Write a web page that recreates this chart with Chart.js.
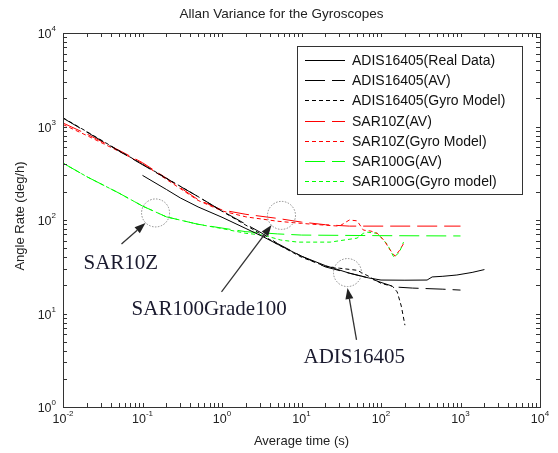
<!DOCTYPE html>
<html><head><meta charset="utf-8">
<script src="https://cdn.jsdelivr.net/npm/chart.js@4"></script>
<style>html,body{margin:0;padding:0;background:#fff}canvas{display:block}</style>
</head><body>
<canvas id="c" width="558" height="453"></canvas>
<script>
// ---- data ----
const adisRealT = [0.1,0.2,0.3,0.5,1,2,3.2,5,10,20,40,70,100,200,380,440,600,900,1400,2000];
const adisRealV = [300,212,172,138,107,81,67,55,41,32.5,27,24,22.8,22.7,22.8,24.6,25,25.8,27.5,29.5];

const adisAvT = [0.01,0.02,0.05,0.1,0.2,0.5,1,2,3.2,5,10,20,40,70,100,150,250,600,1000];
const adisAvV = [1230,870,550,390,278,178,125,90,72,56,41,31.5,27,24,21.5,19.2,18.7,18.2,17.8];

const adisModT = [0.01,0.02,0.05,0.1,0.2,0.5,1,2,5,10,20,30,50,70,100,140,160,180,200];
const adisModV = [1240,880,555,395,280,178,124,88,55,40,32,30.5,29,25,21,19.5,17,12,7.5];

const sar10AvT = [0.01,0.02,0.05,0.1,0.2,0.5,1,2,5,10,20,40,100,1000];
const sar10AvV = [1090,830,560,410,280,165,128,115,104,95,89,86,86,86];

const sar10ModT = [0.01,0.02,0.05,0.1,0.2,0.5,1,2,5,10,20,30,40,50,60,75,90,110,130,150,170,195];
const sar10ModV = [1050,800,545,400,272,162,125,108,97,92,88,86,100,98,78,76,72,60,48,41,47,57];

const sar100AvT = [0.01,0.02,0.05,0.1,0.2,0.5,1,2,5,10,100,1000];
const sar100AvV = [406,290,195,141,108,90,82,75,71,69,68,67.5];

const sar100ModT = [0.01,0.02,0.05,0.1,0.2,0.5,1,2,3.3,5.5,9,23,50,60,68,90,120,145,170,192];
const sar100ModV = [406,290,195,141,108,90,81,72,69,61,58,58,64,72,74,72,55,40,45,58];

const seriesLabels = ['ADIS16405(Real Data)','ADIS16405(AV)','ADIS16405(Gyro Model)','SAR10Z(AV)','SAR10Z(Gyro Model)','SAR100G(AV)','SAR100G(Gyro model)'];

const xTickVals = [0.01,0.1,1,10,100,1000,10000];
const xTickExp  = ['-2','-1','0','1','2','3','4'];
const yTickVals = [1,10,100,1000,10000];
const yTickExp  = ['0','1','2','3','4'];

const titleText = 'Allan Variance for the Gyroscopes';
const xTitle = 'Average time (s)';
const yTitle = 'Angle Rate (deg/h)';

// annotations in data coordinates
const circleCenters = [[0.146,119],[5.6,112],[37.9,27.4]];
const arrowTails = [[0.0544,55.4],[0.986,17.0],[49.2,5.21]];
const arrowTips  = [[0.109,92.9],[4.2,88.4],[37.9,18.7]];
const noteTexts = ['SAR10Z','SAR100Grade100','ADIS16405'];
const notePos = [[0.0181,29.9],[0.0728,9.64],[10.6,2.96]];

function pts(t,v){return t.map((x,i)=>({x:x,y:v[i]}));}

const lineStyles = [
  {c:'rgb(0,0,0)',d:[]},
  {c:'rgb(0,0,0)',d:[20,7]},
  {c:'rgb(0,0,0)',d:[4,3]},
  {c:'rgb(255,0,0)',d:[20,7]},
  {c:'rgb(255,0,0)',d:[4,3]},
  {c:'rgb(0,255,0)',d:[20,7]},
  {c:'rgb(0,255,0)',d:[4,3]}
];
const seriesData = [
  pts(adisRealT,adisRealV), pts(adisAvT,adisAvV), pts(adisModT,adisModV),
  pts(sar10AvT,sar10AvV), pts(sar10ModT,sar10ModV),
  pts(sar100AvT,sar100AvV), pts(sar100ModT,sar100ModV)
];

const datasets = seriesData.map((d,i)=>({
  label: seriesLabels[i], data: d, showLine:true, pointRadius:0,
  borderColor: lineStyles[i].c, borderDash: lineStyles[i].d, borderWidth:1, tension:0, fill:false
}));

const deco = {
  id:'deco',
  afterDraw(chart){
    const ctx = chart.ctx, a = chart.chartArea;
    const xs = chart.scales.x, ys = chart.scales.y;
    ctx.save();
    // box
    ctx.strokeStyle = '#333'; ctx.lineWidth = 1; ctx.setLineDash([]);
    ctx.strokeRect(Math.round(a.left)+0.5, Math.round(a.top)+0.5, Math.round(a.right-a.left), Math.round(a.bottom-a.top));
    // ticks
    const L = 4;
    ctx.beginPath();
    for (let e=-2;e<=4;e++){
      for (let m=1;m<=9;m++){
        const v = m*Math.pow(10,e); if (v>10000*1.0001) continue;
        const px = Math.round(xs.getPixelForValue(v))+0.5;
        ctx.moveTo(px,a.bottom); ctx.lineTo(px,a.bottom-L);
        ctx.moveTo(px,a.top); ctx.lineTo(px,a.top+L);
      }
    }
    for (let e=0;e<=4;e++){
      for (let m=1;m<=9;m++){
        const v = m*Math.pow(10,e); if (v>10000*1.0001) continue;
        const py = Math.round(ys.getPixelForValue(v))+0.5;
        ctx.moveTo(a.left,py); ctx.lineTo(a.left+L,py);
        ctx.moveTo(a.right,py); ctx.lineTo(a.right-L,py);
      }
    }
    ctx.stroke();
    // tick labels
    ctx.fillStyle = '#222';
    const baseF = '12.5px "Liberation Sans", Arial, sans-serif';
    const expF = '8px "Liberation Sans", Arial, sans-serif';
    ctx.textBaseline = 'alphabetic'; ctx.textAlign = 'left';
    xTickVals.forEach((v,i)=>{
      ctx.font = baseF; const w1 = ctx.measureText('10').width;
      ctx.font = expF; const w2 = ctx.measureText(xTickExp[i]).width;
      const cx = xs.getPixelForValue(v); const x0 = cx - (w1+w2)/2;
      ctx.font = baseF; ctx.fillText('10', x0, a.bottom+16);
      ctx.font = expF; ctx.fillText(xTickExp[i], x0+w1, a.bottom+9);
    });
    yTickVals.forEach((v,i)=>{
      ctx.font = baseF; const w1 = ctx.measureText('10').width;
      ctx.font = expF; const w2 = ctx.measureText(yTickExp[i]).width;
      const cy = ys.getPixelForValue(v); const x0 = a.left - 7 - w1 - w2;
      ctx.font = baseF; ctx.fillText('10', x0, cy+5);
      ctx.font = expF; ctx.fillText(yTickExp[i], x0+w1, cy-2);
    });
    // titles
    ctx.font = '13px "Liberation Sans", Arial, sans-serif';
    ctx.textAlign = 'center';
    ctx.fillText(xTitle, (a.left+a.right)/2, a.bottom+38);
    ctx.font = '13.5px "Liberation Sans", Arial, sans-serif';
    ctx.fillText(titleText, (a.left+a.right)/2 - 20, a.top-15);
    ctx.save();
    ctx.translate(24, (a.top+a.bottom)/2 - 4);
    ctx.rotate(-Math.PI/2);
    ctx.font = '13px "Liberation Sans", Arial, sans-serif';
    ctx.fillText(yTitle, 0, 0);
    ctx.restore();
    // legend
    const lx0 = Math.round(a.right-243), ly0 = Math.round(a.top+13), lw = 225, lh = 148;
    ctx.fillStyle = '#fff'; ctx.fillRect(lx0, ly0, lw, lh);
    ctx.strokeStyle = '#333'; ctx.lineWidth = 1; ctx.setLineDash([]);
    ctx.strokeRect(lx0+0.5, ly0+0.5, lw, lh);
    ctx.font = '14px "Liberation Sans", Arial, sans-serif';
    ctx.textAlign = 'left'; ctx.textBaseline = 'middle';
    for (let i=0;i<seriesLabels.length;i++){
      const y = Math.round(ly0 + 14 + i*20.2)+0.5;
      ctx.fillStyle = '#111';
      ctx.fillText(seriesLabels[i], lx0+55, y+1);
    }
    for (let i=0;i<seriesLabels.length;i++){
      const y = Math.round(ly0 + 14 + i*20.2)+0.5;
      ctx.save();
      ctx.strokeStyle = lineStyles[i].c;
      ctx.lineWidth = 1;
      ctx.setLineDash(lineStyles[i].d);
      ctx.beginPath(); ctx.moveTo(lx0+8,y); ctx.lineTo(lx0+48,y); ctx.stroke();
      ctx.restore();
    }
    // annotation circles
    ctx.strokeStyle = '#888'; ctx.setLineDash([1.5,1.5]); ctx.lineWidth = 1;
    circleCenters.forEach(c=>{
      ctx.beginPath();
      ctx.arc(xs.getPixelForValue(c[0]), ys.getPixelForValue(c[1]), 14, 0, Math.PI*2);
      ctx.stroke();
    });
    ctx.setLineDash([]);
    // arrows
    ctx.strokeStyle = '#333'; ctx.fillStyle = '#222'; ctx.lineWidth = 1.3;
    arrowTails.forEach((t,i)=>{
      const x1 = xs.getPixelForValue(t[0]), y1 = ys.getPixelForValue(t[1]);
      const x2 = xs.getPixelForValue(arrowTips[i][0]), y2 = ys.getPixelForValue(arrowTips[i][1]);
      const ang = Math.atan2(y2-y1, x2-x1), hl = 11, hw = 4;
      const bx = x2 - hl*Math.cos(ang), by = y2 - hl*Math.sin(ang);
      ctx.beginPath(); ctx.moveTo(x1,y1); ctx.lineTo(bx,by); ctx.stroke();
      ctx.beginPath(); ctx.moveTo(x2,y2);
      ctx.lineTo(bx + hw*Math.sin(ang), by - hw*Math.cos(ang));
      ctx.lineTo(bx - hw*Math.sin(ang), by + hw*Math.cos(ang));
      ctx.closePath(); ctx.fill();
    });
    // annotation texts
    ctx.font = '21px "Liberation Serif", "Times New Roman", serif';
    ctx.fillStyle = '#1a1a2e'; ctx.textAlign = 'left'; ctx.textBaseline = 'alphabetic';
    noteTexts.forEach((s,i)=>{
      ctx.fillText(s, xs.getPixelForValue(notePos[i][0]), ys.getPixelForValue(notePos[i][1]));
    });
    ctx.restore();
  }
};

new Chart(document.getElementById('c'), {
  type:'scatter',
  data:{datasets:datasets},
  options:{
    responsive:false, animation:false, devicePixelRatio:1,
    layout:{padding:{top:33,right:18,left:0,bottom:0}},
    plugins:{legend:{display:false}, title:{display:false}, tooltip:{enabled:false}},
    scales:{
      x:{type:'logarithmic', min:0.01, max:10000,
         ticks:{display:false}, grid:{display:false}, border:{display:false},
         afterFit:s=>{s.height=46;}},
      y:{type:'logarithmic', min:1, max:10000,
         ticks:{display:false}, grid:{display:false}, border:{display:false},
         afterFit:s=>{s.width=63;}}
    }
  },
  plugins:[deco]
});
</script>
</body></html>
